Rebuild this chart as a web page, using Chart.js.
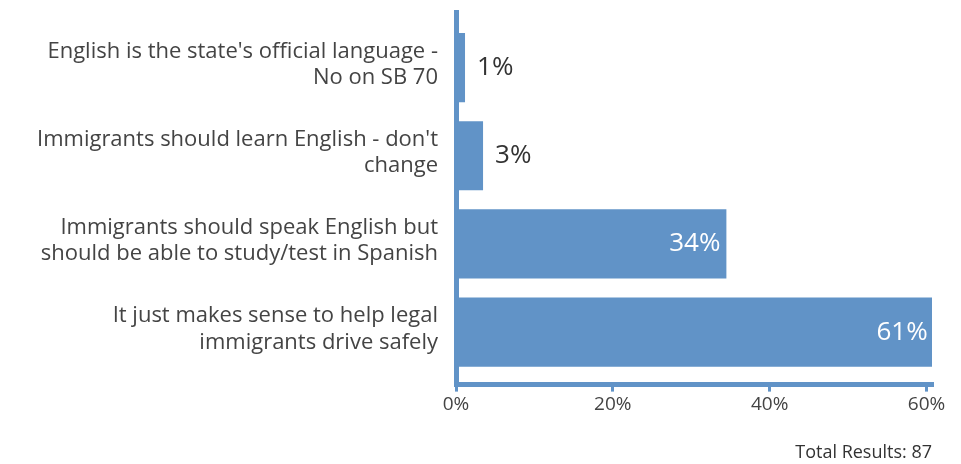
<!DOCTYPE html>
<html>
<head>
<meta charset="utf-8">
<script src="https://cdn.jsdelivr.net/npm/chart.js@4.4.1/dist/chart.umd.min.js"></script>
<style>
  body { margin: 0; background: #fff; }
  #wrap { width: 961px; height: 464px; }
</style>
</head>
<body>
<div id="wrap"><canvas id="myChart" width="961" height="464"></canvas></div>
<script>
// answers (two lines each, as in the survey widget)
var categories = [
    ["English is the state's official language -", "No on SB 70"],
    ["Immigrants should learn English - don't", "change"],
    ["Immigrants should speak English but", "should be able to study/test in Spanish"],
    ["It just makes sense to help legal", "immigrants drive safely"]
];
// share of 87 responses, in percent
var shares = [1.15, 3.45, 34.48, 60.92];
var shareLabels = ['1%', '3%', '34%', '61%'];
var xTicks = [0, 20, 40, 60];
var totalText = 'Total Results: 87';

var blue = '#6193c7';
var textColor = '#444444';
var fontName = "'Open Sans'";

// value labels next to / inside the bars
var valueLabels = {
    id: 'valueLabels',
    afterDatasetsDraw: function (chart) {
        var ctx = chart.ctx;
        var meta = chart.getDatasetMeta(0);
        ctx.save();
        ctx.font = '26px ' + fontName;
        ctx.textBaseline = 'middle';
        meta.data.forEach(function (bar, i) {
            var inside = shares[i] > 20;
            if (inside) {
                ctx.fillStyle = '#ffffff';
                ctx.textAlign = 'right';
                ctx.fillText(shareLabels[i], bar.x - 6, bar.y);
            } else {
                ctx.fillStyle = '#333333';
                ctx.textAlign = 'left';
                ctx.fillText(shareLabels[i], bar.x + 12, bar.y);
            }
        });
        ctx.restore();
    }
};

var ctx = document.getElementById("myChart");

var barChart = new Chart(ctx, {
    type: 'bar',
    data: {
        datasets: [{
            data: shares.map(function (v, i) { return { x: v, y: i }; }),
            backgroundColor: blue,
            categoryPercentage: 1,
            barPercentage: 0.784
        }]
    },
    options: {
        indexAxis: 'y',
        responsive: false,
        animation: false,
        layout: { padding: { top: 12, right: 29, bottom: 0, left: 0 } },
        plugins: {
            legend: { display: false },
            tooltip: { enabled: false },
            title: {
                display: true,
                text: totalText,
                position: 'bottom',
                align: 'end',
                color: '#333333',
                font: { family: fontName, size: 18, weight: 'normal', lineHeight: 1.2 },
                padding: { top: 24, bottom: 0 }
            }
        },
        scales: {
            x: {
                type: 'linear',
                min: 0,
                max: 60.7,
                afterBuildTicks: function (scale) {
                    scale.ticks = xTicks.map(function (v) { return { value: v }; });
                },
                ticks: {
                    color: textColor,
                    font: { family: fontName, size: 19 },
                    padding: 2,
                    callback: function (v) { return v + '%'; }
                },
                grid: {
                    display: true,
                    drawOnChartArea: false,
                    drawTicks: true,
                    tickLength: 7,
                    color: blue,
                    lineWidth: 3
                },
                border: { display: true, color: blue, width: 5 }
            },
            y: {
                type: 'linear',
                reverse: true,
                offset: false,
                min: -0.63,
                max: 3.595,
                afterBuildTicks: function (scale) {
                    scale.ticks = categories.map(function (c, i) { return { value: i }; });
                },
                afterFit: function (scale) {
                    scale.width = 456;
                    scale.paddingTop = 0;
                    scale.paddingBottom = 0;
                },
                ticks: {
                    color: textColor,
                    font: { family: fontName, size: 22, lineHeight: 1.2 },
                    padding: 18,
                    labelOffset: -3,
                    callback: function (v) { return categories[v]; }
                },
                grid: { display: false, drawTicks: false },
                border: { display: true, color: blue, width: 5 }
            }
        }
    },
    plugins: [valueLabels]
});
</script>
</body>
</html>
